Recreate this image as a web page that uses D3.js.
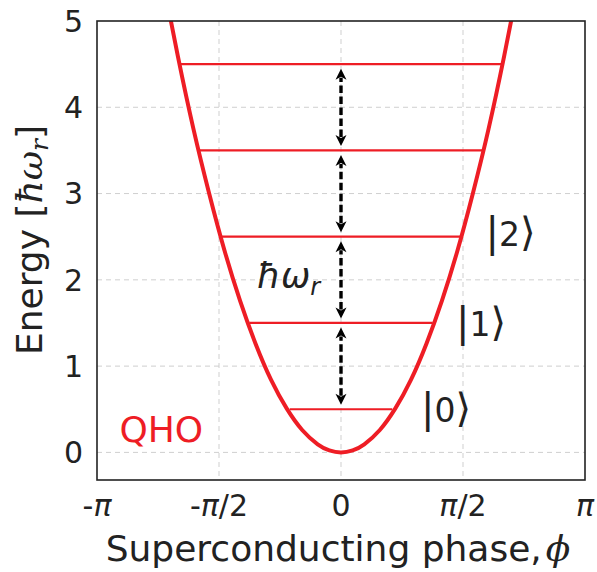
<!DOCTYPE html>
<html>
<head>
<meta charset="utf-8">
<script src="https://cdn.jsdelivr.net/npm/d3@7"></script>
<style>
  body { margin: 0; background: #fff; }
  text { font-family: "DejaVu Sans", sans-serif; fill: #222; }
</style>
</head>
<body>
<div id="chart-area"></div>
<script>
let width = 597,
height = 572;

margin = ({top: 21, right: 12, bottom: 92, left: 97});

// potential curve (phase in rad, energy in hbar*omega_r)
const curvePhi = [-2.3, -2.1, -1.9, -1.7, -1.5, -1.3, -1.1, -0.9, -0.7, -0.5, -0.3, -0.15, 0,
                  0.15, 0.3, 0.5, 0.7, 0.9, 1.1, 1.3, 1.5, 1.7, 1.9, 2.1, 2.3];
const curveE = [5.5, 4.59, 3.75, 3.01, 2.34, 1.76, 1.26, 0.84, 0.51, 0.26, 0.094, 0.023, 0,
                0.023, 0.094, 0.26, 0.51, 0.84, 1.26, 1.76, 2.34, 3.01, 3.75, 4.59, 5.5];

// energy levels and their half widths
const levelE = [0.5, 1.5, 2.5, 3.5, 4.5];
const levelHalf = [0.66, 1.18, 1.54, 1.83, 2.07];

// ket labels
const ketNames = ["0", "1", "2"];
const ketPhi = [1.03, 1.48, 1.86];
const ketE = [0.35, 1.35, 2.39];

// ticks
const xTicks = [-Math.PI, -Math.PI / 2, 0, Math.PI / 2, Math.PI];
const xTickLabels = [["-", "π", ""], ["-", "π", "/2"], ["0", "", ""], ["", "π", "/2"], ["", "π", ""]];
const yTicks = [0, 1, 2, 3, 4, 5];

const red = "#ee1d25";

const svg = d3
  .select("#chart-area")
  .append("svg")
  .attr("width", width)
  .attr("height", height);

let x = d3.scaleLinear()
    .domain([-Math.PI, Math.PI])
    .range([margin.left, width - margin.right]);
let y = d3.scaleLinear()
    .domain([-0.32, 5])
    .range([height - margin.bottom, margin.top]);

svg.append("defs").append("clipPath").attr("id", "clip")
  .append("rect")
    .attr("x", margin.left).attr("y", margin.top)
    .attr("width", width - margin.left - margin.right)
    .attr("height", height - margin.top - margin.bottom);

// grid
svg.append("g")
  .selectAll("line")
  .data(yTicks.slice(0, 5))
  .join("line")
    .attr("x1", margin.left).attr("x2", width - margin.right)
    .attr("y1", d => y(d)).attr("y2", d => y(d))
    .attr("stroke", "#cfcfcf").attr("stroke-width", 1)
    .attr("stroke-dasharray", "5,4");
svg.append("g")
  .selectAll("line")
  .data(xTicks.slice(1, 4))
  .join("line")
    .attr("x1", d => x(d)).attr("x2", d => x(d))
    .attr("y1", margin.top).attr("y2", height - margin.bottom)
    .attr("stroke", "#cfcfcf").attr("stroke-width", 1)
    .attr("stroke-dasharray", "5,4");

// tick labels
svg.append("g")
  .selectAll("text")
  .data(yTicks)
  .join("text")
    .attr("x", margin.left - 14)
    .attr("y", d => y(d))
    .attr("dy", "0.36em")
    .attr("text-anchor", "end")
    .attr("font-size", 30)
    .text(d => d);

const xt = svg.append("g")
  .selectAll("text")
  .data(xTicks)
  .join("text")
    .attr("x", d => x(d))
    .attr("y", height - margin.bottom + 36)
    .attr("text-anchor", "middle")
    .attr("font-size", 30);
xt.each(function(d, i) {
  const t = d3.select(this);
  const parts = xTickLabels[i];
  t.append("tspan").text(parts[0]);
  t.append("tspan").attr("font-style", "italic").text(parts[1]);
  t.append("tspan").text(parts[2]);
});

// axis labels
svg.append("text")
  .attr("x", (margin.left + width - margin.right) / 2 - 3)
  .attr("y", height - 11)
  .attr("text-anchor", "middle")
  .attr("font-size", 36)
  .call(t => t.append("tspan").text("Superconducting phase,"))
  .call(t => t.append("tspan")
      .attr("font-family", "DejaVu Serif").attr("font-style", "italic")
      .attr("dx", 4).text("ϕ"));

svg.append("text")
  .attr("transform", `translate(42,240) rotate(-90)`)
  .attr("text-anchor", "middle")
  .attr("font-size", 36)
  .call(t => t.append("tspan").text("Energy ["))
  .call(t => t.append("tspan")
      .attr("font-family", "DejaVu Serif").attr("font-style", "italic").text("ħω"))
  .call(t => t.append("tspan")
      .attr("font-family", "DejaVu Serif").attr("font-style", "italic")
      .attr("font-size", 25).attr("dy", 6).text("r"))
  .call(t => t.append("tspan").attr("dy", -6).text("]"));

// potential curve
const plot = svg.append("g").attr("clip-path", "url(#clip)");
const line = d3.line()
    .curve(d3.curveNatural)
    .x((d, i) => x(curvePhi[i]))
    .y(d => y(d));
plot.append("path")
    .datum(curveE)
    .attr("fill", "none")
    .attr("stroke", red)
    .attr("stroke-width", 4)
    .attr("d", line);

// levels
plot.append("g")
  .selectAll("line")
  .data(levelE)
  .join("line")
    .attr("x1", (d, i) => x(-levelHalf[i]))
    .attr("x2", (d, i) => x(levelHalf[i]))
    .attr("y1", d => y(d)).attr("y2", d => y(d))
    .attr("stroke", red).attr("stroke-width", 2.2);

// double arrows between neighbouring levels
const gap = 4.5, head = 11, hw = 5.5;
const arrows = plot.append("g");
levelE.slice(0, -1).forEach((e, i) => {
  const yb = y(e) - gap, yt = y(levelE[i + 1]) + gap, cx = x(0);
  arrows.append("line")
    .attr("x1", cx).attr("x2", cx)
    .attr("y1", yb - head + 2).attr("y2", yt + head - 2)
    .attr("stroke", "#000").attr("stroke-width", 3.4)
    .attr("stroke-dasharray", "7.5,3.5");
  arrows.append("path")
    .attr("d", `M${cx},${yt} L${cx - hw},${yt + head} L${cx},${yt + head - 3} L${cx + hw},${yt + head} Z`)
    .attr("fill", "#000");
  arrows.append("path")
    .attr("d", `M${cx},${yb} L${cx - hw},${yb - head} L${cx},${yb - head + 3} L${cx + hw},${yb - head} Z`)
    .attr("fill", "#000");
});

// frame
svg.append("rect")
    .attr("x", margin.left).attr("y", margin.top)
    .attr("width", width - margin.left - margin.right)
    .attr("height", height - margin.top - margin.bottom)
    .attr("fill", "none").attr("stroke", "#222").attr("stroke-width", 1.6);

// annotations
svg.append("g")
  .selectAll("text")
  .data(ketNames)
  .join("text")
    .attr("x", (d, i) => x(ketPhi[i]))
    .attr("y", (d, i) => y(ketE[i]))
    .attr("font-size", 33)
    .each(function(d) {
      const t = d3.select(this);
      t.append("tspan").attr("font-size", 40).text("|");
      t.append("tspan").text(d);
      t.append("tspan").attr("font-size", 40).text("⟩");
    });

svg.append("text")
    .attr("x", x(-1.085))
    .attr("y", y(1.91))
    .attr("font-family", "DejaVu Serif")
    .attr("font-style", "italic")
    .attr("font-size", 35)
    .call(t => t.append("tspan").text("ħω"))
    .call(t => t.append("tspan").attr("font-size", 24).attr("dy", 7).text("r"));

svg.append("text")
    .attr("x", x(-2.853))
    .attr("y", y(0.12))
    .attr("font-size", 36)
    .style("fill", red)
    .text("QHO");
</script>
</body>
</html>
